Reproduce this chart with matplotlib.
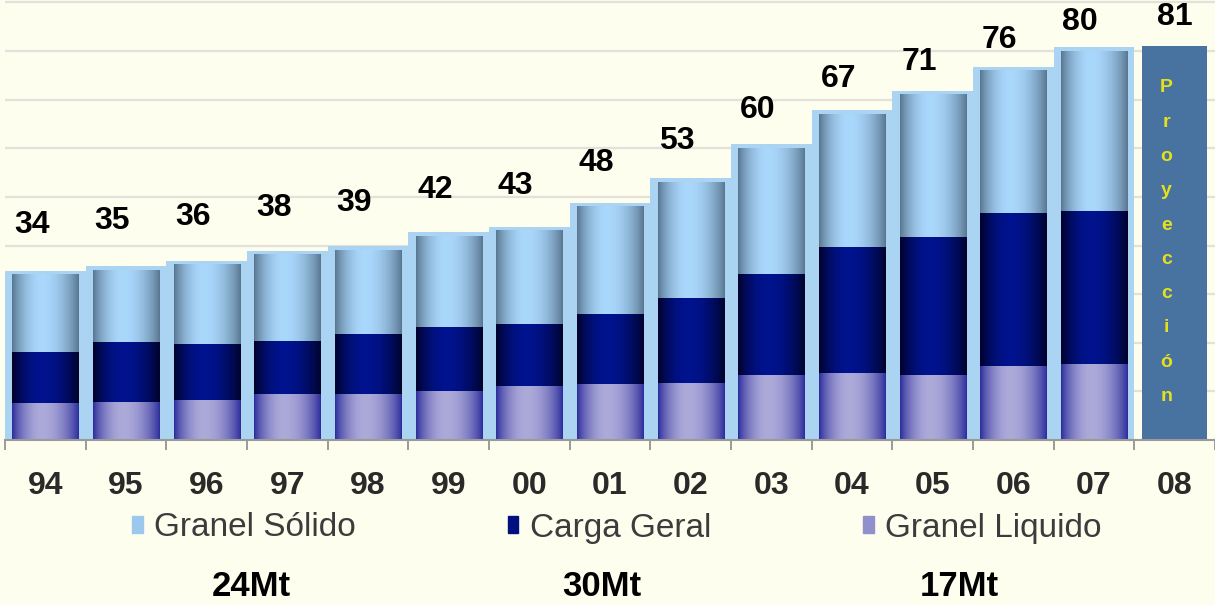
import numpy as np
import matplotlib
matplotlib.use('Agg')
import matplotlib.pyplot as plt
from matplotlib.colors import to_rgb
from matplotlib.patches import Patch

plt.rcParams['font.family'] = ['Liberation Sans', 'DejaVu Sans']

anos = ['94', '95', '96', '97', '98', '99', '00', '01', '02', '03', '04', '05', '06', '07', '08']
granel_liquido = [7.7, 7.9, 8.3, 9.5, 9.5, 10.0, 11.2, 11.6, 11.8, 13.4, 13.8, 13.4, 15.2, 15.7]
carga_geral = [10.3, 12.3, 11.4, 10.9, 12.3, 13.3, 12.6, 14.3, 17.5, 20.7, 25.9, 28.3, 31.4, 31.4]
granel_solido = [16.0, 14.8, 16.3, 17.7, 17.2, 18.7, 19.2, 22.1, 23.7, 25.9, 27.3, 29.3, 29.4, 32.9]
totales = [34, 35, 36, 38, 39, 42, 43, 48, 53, 60, 67, 71, 76, 80, 81]
series = ['Granel Sólido', 'Carga Geral', 'Granel Liquido']
toneladas = ['24Mt', '30Mt', '17Mt']
proyeccion = 'Proyección'

fondo = '#FEFEEF'
fig = plt.figure(figsize=(12.15, 6.05), dpi=100, facecolor=fondo)
ax = fig.add_axes([5 / 1215, 165 / 605, 1210 / 1215, 440 / 605])
ax.set_facecolor(fondo)

n = len(granel_liquido)
x = np.arange(n)
ancho = 0.82

# halo azul claro detras de las barras
ax.bar(x, np.array(totales[:n]) + 0.8, width=1.0, color='#AAD4F2', zorder=1)

liq = np.array(granel_liquido)
car = np.array(carga_geral)
sol = np.array(granel_solido)
b1 = ax.bar(x, liq, width=ancho, color='#AAA8D8', zorder=2)
b2 = ax.bar(x, car, bottom=liq, width=ancho, color='#00128A', zorder=2)
b3 = ax.bar(x, sol, bottom=liq + car, width=ancho, color='#A9D6FB', zorder=2)


def cilindro(barras, borde, centro, pico=0.45):
    t = np.linspace(0, 1, 80)
    tt = np.where(t < pico, t / pico * 0.5, 0.5 + (t - pico) / (1 - pico) * 0.5)
    w = np.sin(np.pi * tt) ** 0.8
    c0, c1 = np.array(to_rgb(borde)), np.array(to_rgb(centro))
    img = (c0[None, :] * (1 - w[:, None]) + c1[None, :] * w[:, None])[None, :, :]
    for p in barras:
        x0, y0 = p.get_x(), p.get_y()
        ax.imshow(img, extent=(x0, x0 + p.get_width(), y0, y0 + p.get_height()),
                  aspect='auto', zorder=3, interpolation='bilinear')


cilindro(b1, '#2C2C9C', '#ACAAD9')
cilindro(b2, '#000228', '#00138E')
cilindro(b3, '#587690', '#AAD7FC')

# barra de proyeccion 2008
ip = len(totales) - 1
ax.bar([ip], [totales[-1]], width=ancho * 0.98, color='#4872A0', zorder=4)
for k, letra in enumerate(proyeccion.lower().capitalize()):
    ax.text(ip - 0.1, totales[-1] - 8.6 - 7.05 * k, letra, ha='center', va='center',
            fontsize=14, fontweight='bold', color='#E6DF1C', zorder=5)

# totales
for i, v in enumerate(totales):
    dx = 0 if i == ip else -0.17
    ax.text(i + dx, 13.2 + 0.91 * v, str(v), ha='center', va='center',
            fontsize=23, fontweight='bold', color='black', zorder=6)

ax.set_xlim(-0.5, len(totales) - 0.5)
ax.set_ylim(0, 90.5)
ax.set_yticks(np.arange(10, 91, 10))
ax.grid(axis='y', color='#E2E2DA', lw=1.6, zorder=0)
ax.set_axisbelow(True)
ax.tick_params(axis='y', left=False, labelleft=False)

ax.set_xticks(np.arange(len(totales)))
ax.set_xticklabels(anos, fontsize=23, fontweight='bold', color='#2A2A2A')
ax.tick_params(axis='x', length=0, pad=22)
ax.set_xticks(np.arange(len(totales) + 1) - 0.5, minor=True)
ax.tick_params(axis='x', which='minor', length=7, width=1.2, color='#8A8A8A', direction='out')

for s in ['left', 'right', 'top']:
    ax.spines[s].set_visible(False)
ax.spines['bottom'].set_color('#9A9A9A')
ax.spines['bottom'].set_linewidth(1.5)
ax.spines['bottom'].set_zorder(7)

handles = [Patch(color='#9CC8EE'), Patch(color='#00107E'), Patch(color='#9090CC')]
fig.legend(handles, series, loc='center', bbox_to_anchor=(617 / 1215, 1 - 528 / 605),
           ncol=3, frameon=False, fontsize=24, labelcolor='#3C3C3C',
           handlelength=0.32, handleheight=0.4, handletextpad=0.35, columnspacing=4.55,
           borderpad=0, borderaxespad=0)

for xt, t in zip([251, 602, 959], toneladas):
    fig.text(xt / 1215, 1 - 587 / 605, t, ha='center', va='center',
             fontsize=25, fontweight='bold', color='black')

fig.savefig('out.png', dpi=100, facecolor=fondo)
